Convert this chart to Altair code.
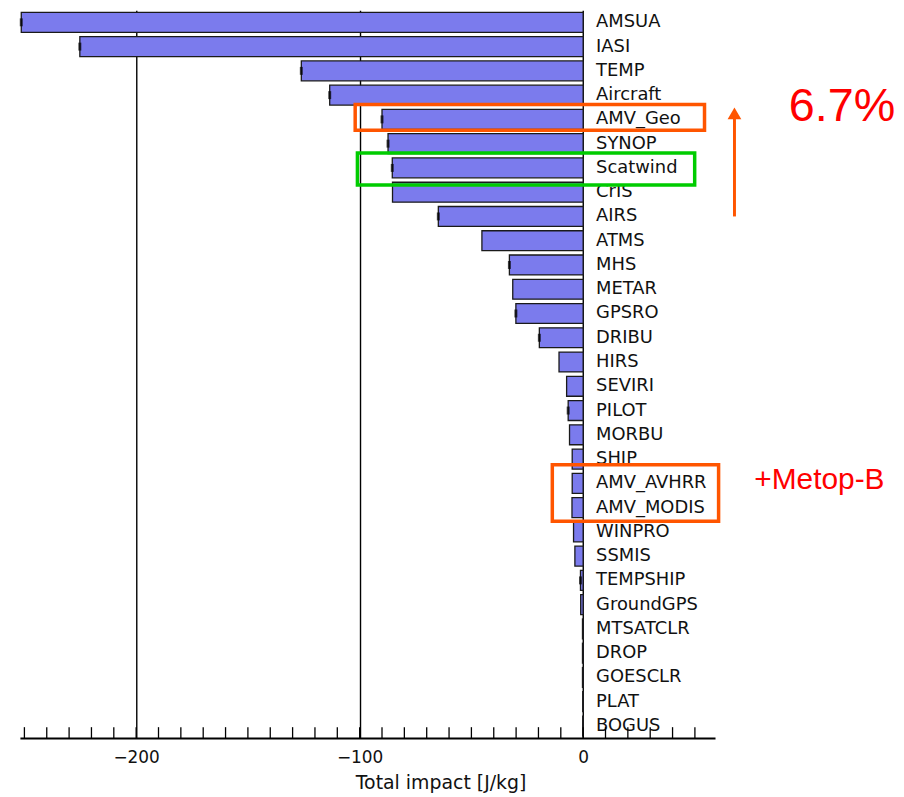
import altair as alt
import pandas as pd

# ---- data ----
names = ["AMSUA", "IASI", "TEMP", "Aircraft", "AMV_Geo", "SYNOP", "Scatwind", "CrIS",
         "AIRS", "ATMS", "MHS", "METAR", "GPSRO", "DRIBU", "HIRS", "SEVIRI", "PILOT",
         "MORBU", "SHIP", "AMV_AVHRR", "AMV_MODIS", "WINPRO", "SSMIS", "TEMPSHIP",
         "GroundGPS", "MTSATCLR", "DROP", "GOESCLR", "PLAT", "BOGUS"]
impact = [-251.4, -225.2, -126.1, -113.4, -90.0, -87.3, -85.4, -85.3,
          -64.8, -45.3, -33.0, -31.5, -30.1, -19.6, -10.8, -7.4, -6.7,
          -6.1, -4.9, -4.9, -5.0, -4.3, -3.7, -1.2,
          -1.1, -0.3, -0.3, -0.3, -0.2, -0.2]
has_err = [1, 1, 1, 1, 1, 1, 1, 0,
           1, 0, 1, 0, 1, 1, 0, 0, 1,
           0, 0, 0, 0, 0, 0, 1,
           0, 0, 0, 0, 0, 0]
major_ticks = [-200, -100, 0]
minor_ticks = [-250, -240, -230, -220, -210, -200, -190, -180, -170, -160, -150,
               -140, -130, -120, -110, -100, -90, -80, -70, -60, -50, -40, -30,
               -20, -10, 0, 10, 20, 30, 40, 50]

# annotation boxes (x in J/kg, y in row units from top)
box_x1 = [-102.0, -101.0, -13.8]
box_x2 = [54.3, 49.9, 60.6]
box_y1 = [3.89, 5.89, 18.73]
box_y2 = [4.95, 7.20, 21.06]
box_col = ["#FF5500", "#00CC00", "#FF5500"]

arrow_x = [67.7]
arrow_y_tail = [8.5]
arrow_y_head = [4.25]

note_text = ["6.7%", "+Metop-B"]
note_x = [92.0, 76.6]
note_y = [4.0, 19.38]
note_size = [47, 30]

W, H = 699, 732
ORANGE = "#FF5500"

df = pd.DataFrame({"name": names, "impact": impact, "err": has_err})
boxes = pd.DataFrame({"x1": box_x1, "x2": box_x2, "y1": box_y1, "y2": box_y2, "c": box_col})
arrow = pd.DataFrame({"x": arrow_x, "y": arrow_y_tail, "y2": arrow_y_head})
notes = pd.DataFrame({"x": note_x, "y": note_y, "t": note_text, "s": note_size})
ticks = pd.DataFrame({"t": minor_ticks})

xs = alt.Scale(domain=[-252, 59], nice=False, zero=False)
ys = alt.Scale(domain=names, paddingInner=0.18, paddingOuter=0.09)
rows = alt.Scale(domain=[0, 30], reverse=True, nice=False, zero=False)

Y = alt.Y("name:N", sort=names, scale=ys, axis=None)

x_axis = alt.Axis(values=major_ticks, grid=True, gridColor="black", gridWidth=1.4,
                  gridOpacity=1, ticks=False, domainColor="black", domainWidth=2,
                  labelFont="DejaVu Sans", labelFontSize=17, labelColor="#111",
                  labelPadding=12, title="Total impact [J/kg]",
                  titleFont="DejaVu Sans", titleFontSize=19, titleFontWeight="normal",
                  titleColor="#111", titleX=423, titleY=51, titleBaseline="alphabetic",
                  titleAlign="center")

base = alt.Chart(df)

bars = base.mark_bar(color="#7B7BED", stroke="#1a1a1a", strokeWidth=1.3).encode(
    x=alt.X("impact:Q", scale=xs, axis=x_axis),
    x2=alt.datum(0),
    y=Y,
)

errs = base.transform_filter(alt.datum.err == 1).mark_tick(
    color="black", thickness=3, size=8).encode(
    x=alt.X("impact:Q", scale=xs), y=Y)

labels = base.mark_text(align="left", baseline="middle", dx=13, font="DejaVu Sans",
                        fontSize=18, color="#111").encode(
    x=alt.datum(0, scale=xs), y=Y, text="name:N")

minor = alt.Chart(ticks).mark_rule(color="black", strokeWidth=1.3).encode(
    x=alt.X("t:Q", scale=xs), y=alt.value(H - 11), y2=alt.value(H))

box_layer = alt.Chart(boxes).mark_rect(filled=False, strokeWidth=3.5).encode(
    x=alt.X("x1:Q", scale=xs), x2="x2:Q",
    y=alt.Y("y1:Q", scale=rows, axis=None), y2="y2:Q",
    stroke=alt.Stroke("c:N", scale=None))

arrow_line = alt.Chart(arrow).mark_rule(color=ORANGE, strokeWidth=3).encode(
    x=alt.X("x:Q", scale=xs), y=alt.Y("y:Q", scale=rows, axis=None), y2="y2:Q")

arrow_head = alt.Chart(arrow).mark_point(shape="triangle-up", filled=True, size=190,
                                         color=ORANGE, opacity=1).encode(
    x=alt.X("x:Q", scale=xs), y=alt.Y("y2:Q", scale=rows, axis=None))

note_layer = alt.Chart(notes).mark_text(align="left", baseline="middle",
                                         font="Liberation Sans", color="#FF0000").encode(
    x=alt.X("x:Q", scale=xs), y=alt.Y("y:Q", scale=rows, axis=None),
    text="t:N", size=alt.Size("s:Q", scale=None))

chart = alt.layer(bars, errs, labels, minor, box_layer, arrow_line, arrow_head,
                  note_layer).resolve_scale(y="independent").properties(
    width=W, height=H, background="white",
    padding={"left": 11, "top": 0, "right": 0, "bottom": 0},
).configure_view(stroke=None)

chart.save("out.html", embed_options={"renderer": "svg", "actions": False})
